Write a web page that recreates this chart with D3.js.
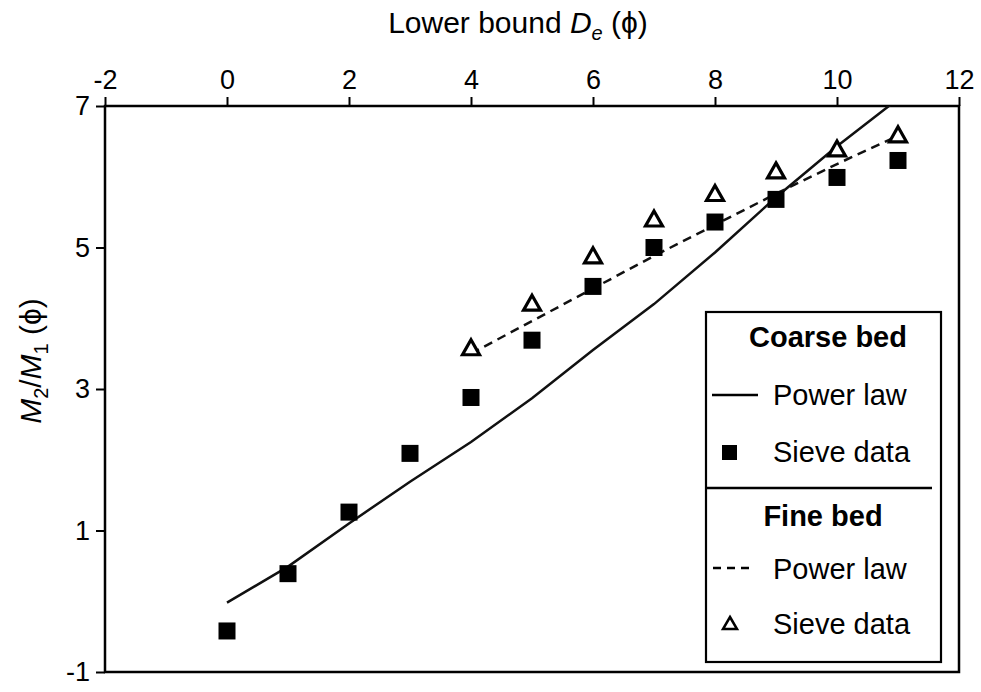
<!DOCTYPE html>
<html lang="en">
<head>
<meta charset="utf-8">
<script src="https://d3js.org/d3.v7.min.js"></script>
<style>
  body { margin: 0; background: #fff; }
  text { font-family: "Liberation Sans", Arial, sans-serif; fill: #000; }
</style>
</head>
<body>
<script>
// chart values
const xTicks = [-2, 0, 2, 4, 6, 8, 10, 12];
const yTicks = [-1, 1, 3, 5, 7];

const coarseX = [0, 1, 2, 3, 4, 5, 6, 7, 8, 9, 10, 11];
const coarseSieve = [-0.42, 0.39, 1.26, 2.09, 2.88, 3.69, 4.45, 5.00, 5.36, 5.68, 5.99, 6.23];
const coarsePower = [-0.02, 0.49, 1.10, 1.69, 2.25, 2.87, 3.55, 4.20, 4.93, 5.71, 6.43, 7.10];

const fineX = [4, 5, 6, 7, 8, 9, 10, 11];
const fineSieve = [3.59, 4.22, 4.89, 5.41, 5.77, 6.09, 6.40, 6.60];
const finePower = [3.50, 3.96, 4.42, 4.88, 5.32, 5.76, 6.18, 6.58];

const W = 981, H = 692;
const pLeft = 105, pRight = 959, pTop = 106, pBottom = 672;

const svg = d3.select("body").append("svg")
  .attr("width", W)
  .attr("height", H);

const x = d3.scaleLinear().domain([-2, 12]).range([pLeft, pRight]);
const y = d3.scaleLinear().domain([-1, 7]).range([pBottom, pTop]);

svg.append("clipPath").attr("id", "plot")
  .append("rect")
  .attr("x", pLeft).attr("y", pTop)
  .attr("width", pRight - pLeft).attr("height", pBottom - pTop);

// axes (plain hyphen for negatives, like the original)
const fmt = d => String(d);

const xAxis = svg.append("g")
  .attr("transform", "translate(0," + pTop + ")")
  .call(d3.axisTop(x).tickValues(xTicks).tickFormat(fmt).tickSize(9).tickPadding(8).tickSizeOuter(0));

const yAxis = svg.append("g")
  .attr("transform", "translate(" + pLeft + ",0)")
  .call(d3.axisLeft(y).tickValues(yTicks).tickFormat(fmt).tickSize(9).tickPadding(6).tickSizeOuter(0));

[xAxis, yAxis].forEach(g => {
  g.attr("font-family", null).attr("font-size", null);
  g.select(".domain").remove();
  g.selectAll(".tick line").attr("stroke", "#000").attr("stroke-width", 2);
  g.selectAll(".tick text").style("font-size", "27px");
});

// frame
svg.append("rect")
  .attr("x", pLeft).attr("y", pTop)
  .attr("width", pRight - pLeft).attr("height", pBottom - pTop)
  .attr("fill", "none").attr("stroke", "#000").attr("stroke-width", 2.5);

// axis titles
const xt = svg.append("text")
  .attr("x", 518).attr("y", 33)
  .attr("text-anchor", "middle")
  .style("font-size", "30px");
xt.append("tspan").text("Lower bound ");
xt.append("tspan").attr("font-style", "italic").text("D");
xt.append("tspan").attr("font-style", "italic").attr("dy", 7).style("font-size", "20px").text("e");
xt.append("tspan").attr("dy", -7).text(" (\u03D5)");

const yt = svg.append("text")
  .attr("transform", "translate(41,361) rotate(-90)")
  .attr("text-anchor", "middle")
  .style("font-size", "30px");
yt.append("tspan").attr("font-style", "italic").text("M");
yt.append("tspan").attr("dy", 7).style("font-size", "20px").text("2");
yt.append("tspan").attr("dy", -7).text("/");
yt.append("tspan").attr("font-style", "italic").text("M");
yt.append("tspan").attr("dy", 7).style("font-size", "20px").text("1");
yt.append("tspan").attr("dy", -7).text(" (\u03D5)");

// lines
const plot = svg.append("g").attr("clip-path", "url(#plot)");

const coarseLine = coarseX.map((v, i) => ({x: v, y: coarsePower[i]}));
const fineLine = fineX.map((v, i) => ({x: v, y: finePower[i]}));

const line = d3.line().x(d => x(d.x)).y(d => y(d.y));

plot.append("path")
  .datum(coarseLine)
  .attr("fill", "none")
  .attr("stroke", "#111")
  .attr("stroke-width", 2.5)
  .attr("d", line);

plot.append("path")
  .datum(fineLine)
  .attr("fill", "none")
  .attr("stroke", "#111")
  .attr("stroke-width", 2.5)
  .attr("stroke-dasharray", "9,6")
  .attr("d", line);

// markers
function triangle(w, h) {
  return "M0," + (-h / 2) + "L" + (w / 2) + "," + (h / 2) + "L" + (-w / 2) + "," + (h / 2) + "Z";
}

plot.selectAll(".sq")
  .data(coarseX.map((v, i) => ({x: v, y: coarseSieve[i]})))
  .enter()
  .append("rect")
  .attr("class", "sq")
  .attr("x", d => x(d.x) - 8.5)
  .attr("y", d => y(d.y) - 8.5)
  .attr("width", 17)
  .attr("height", 17)
  .attr("fill", "#000");

plot.selectAll(".tri")
  .data(fineX.map((v, i) => ({x: v, y: fineSieve[i]})))
  .enter()
  .append("path")
  .attr("class", "tri")
  .attr("transform", d => "translate(" + x(d.x) + "," + y(d.y) + ")")
  .attr("d", triangle(17, 15))
  .attr("fill", "#fff")
  .attr("stroke", "#000")
  .attr("stroke-width", 3.2)
  .attr("stroke-linejoin", "miter");

// legend
const lg = svg.append("g");
lg.append("rect")
  .attr("x", 706).attr("y", 312)
  .attr("width", 235).attr("height", 350)
  .attr("fill", "#fff").attr("stroke", "#000").attr("stroke-width", 2.2);

lg.append("text").attr("x", 828).attr("y", 347).attr("text-anchor", "middle")
  .style("font-size", "29px").style("font-weight", "bold").text("Coarse bed");
lg.append("line").attr("x1", 712).attr("x2", 758).attr("y1", 395).attr("y2", 395)
  .attr("stroke", "#000").attr("stroke-width", 2.5);
lg.append("text").attr("x", 773).attr("y", 405).style("font-size", "29px").text("Power law");
lg.append("rect").attr("x", 722).attr("y", 445).attr("width", 15).attr("height", 15).attr("fill", "#000");
lg.append("text").attr("x", 773).attr("y", 462).style("font-size", "29px").text("Sieve data");

lg.append("line").attr("x1", 706).attr("x2", 932).attr("y1", 488).attr("y2", 488)
  .attr("stroke", "#000").attr("stroke-width", 2.5);

lg.append("text").attr("x", 823).attr("y", 526).attr("text-anchor", "middle")
  .style("font-size", "29px").style("font-weight", "bold").text("Fine bed");
lg.append("line").attr("x1", 713).attr("x2", 755).attr("y1", 568).attr("y2", 568)
  .attr("stroke", "#000").attr("stroke-width", 2.5).attr("stroke-dasharray", "8,6");
lg.append("text").attr("x", 773).attr("y", 579).style("font-size", "29px").text("Power law");
lg.append("path").attr("transform", "translate(730,623)").attr("d", triangle(14, 12))
  .attr("fill", "#fff").attr("stroke", "#000").attr("stroke-width", 2.5);
lg.append("text").attr("x", 773).attr("y", 634).style("font-size", "29px").text("Sieve data");
</script>
</body>
</html>
